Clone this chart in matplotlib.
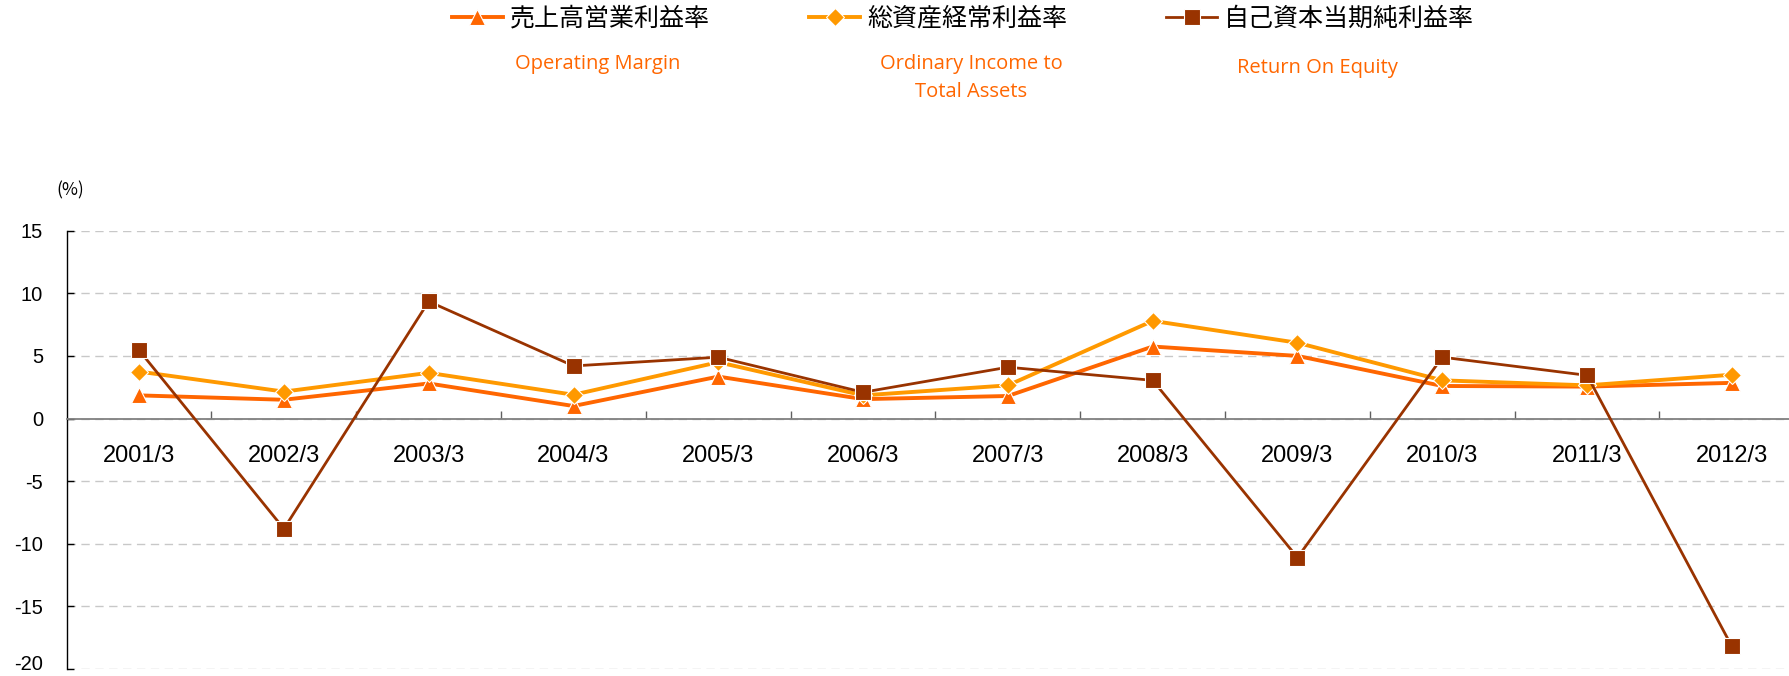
import matplotlib
matplotlib.use("Agg")
import matplotlib.pyplot as plt
import matplotlib.transforms as mtransforms
import numpy as np

plt.rcParams['axes.unicode_minus'] = False

# Data (%)
years = ['2001/3', '2002/3', '2003/3', '2004/3', '2005/3', '2006/3',
         '2007/3', '2008/3', '2009/3', '2010/3', '2011/3', '2012/3']
operating_margin = [1.85, 1.5, 2.8, 1.0, 3.35, 1.55, 1.8, 5.75, 5.0, 2.6, 2.55, 2.85]
ordinary_income = [3.75, 2.15, 3.65, 1.9, 4.5, 1.85, 2.65, 7.8, 6.05, 3.05, 2.65, 3.5]
roe = [5.45, -8.8, 9.35, 4.2, 4.9, 2.1, 4.1, 3.05, -11.1, 4.9, 3.45, -18.2]

yticks = [15, 10, 5, 0, -5, -10, -15, -20]

jp_names = ['売上高営業利益率', '総資産経常利益率', '自己資本当期純利益率']
en_names = ['Operating Margin', 'Ordinary Income to\nTotal Assets', 'Return On Equity']
colors = ['#FF6600', '#FF9900', '#993300']
markers = ['^', 'D', 's']

W, H = 1790, 676


def main():
    fig = plt.figure(figsize=(W / 100, H / 100), dpi=100)
    ax = fig.add_axes([66.7 / W, (H - 669) / H, (1804.3 - 66.7) / W, (669 - 230.7) / H])

    x = np.arange(len(years))
    series = [operating_margin, ordinary_income, roe]
    widths = [2.8, 2.8, 2.0]
    msizes = [11, 9, 11]
    lines = []
    for vals, c, m, lw, ms, name in zip(series, colors, markers, widths, msizes, jp_names):
        ln, = ax.plot(x, vals, color=c, lw=lw, marker=m, markersize=ms,
                      markeredgecolor='white', markeredgewidth=0.8, label=name,
                      zorder=3, clip_on=False)
        lines.append(ln)

    ax.set_xlim(-0.5, len(years) - 0.5)
    ax.set_ylim(-20, 15)

    # y axis
    ax.set_yticks(yticks)
    ax.set_yticklabels([str(v) for v in yticks], fontsize=14.5, family='Liberation Sans')
    ax.tick_params(axis='y', direction='in', length=5, width=1, color='black', pad=17)
    ax.yaxis.grid(True, color='#C8C8C8', lw=1.0, dashes=(6, 4))
    ax.set_axisbelow(True)
    # keep the bottom label inside the picture
    last = ax.get_yticklabels()[-1]
    last.set_transform(last.get_transform() + mtransforms.ScaledTranslation(0, 7 / 100, fig.dpi_scale_trans))

    # x axis at zero
    ax.spines['bottom'].set_position(('data', 0))
    ax.spines['bottom'].set_color('#808080')
    ax.spines['bottom'].set_linewidth(1.3)
    ax.spines['left'].set_color('black')
    ax.spines['left'].set_linewidth(1.0)
    ax.spines['top'].set_visible(False)
    ax.spines['right'].set_visible(False)

    ax.set_xticks(np.arange(0.5, len(years) - 0.5, 1.0))
    ax.set_xticklabels([])
    ax.set_xticks(x, minor=True)
    ax.set_xticklabels(years, minor=True, fontsize=17, family='Liberation Sans')
    ax.tick_params(axis='x', which='major', direction='in', length=6, width=1, color='#606060')
    ax.tick_params(axis='x', which='minor', length=0, pad=19)

    fig.text(56 / W, 1 - 190 / H, '(%)', fontsize=12.5, family=['Noto Sans CJK JP', 'DejaVu Sans'],
             va='center', ha='left')

    # legend
    fig.legend(handles=lines, loc='upper left', bbox_to_anchor=(452 / W, 1 - 6 / H),
               ncol=3, frameon=False, borderpad=0, borderaxespad=0,
               handlelength=2.04, handletextpad=0.28, columnspacing=3.96,
               prop={'family': ['Noto Sans CJK JP', 'DejaVu Sans'], 'size': 18})

    en_pos = [(598, 64), (971, 78), (1317, 68)]
    for (px, py), txt in zip(en_pos, en_names):
        fig.text(px / W, 1 - py / H, txt, color='#FF6600', fontsize=14.5, family='Open Sans',
                 ha='center', va='center', linespacing=1.55)

    fig.savefig('out.png', dpi=100)


if __name__ == "__main__":
    main()
